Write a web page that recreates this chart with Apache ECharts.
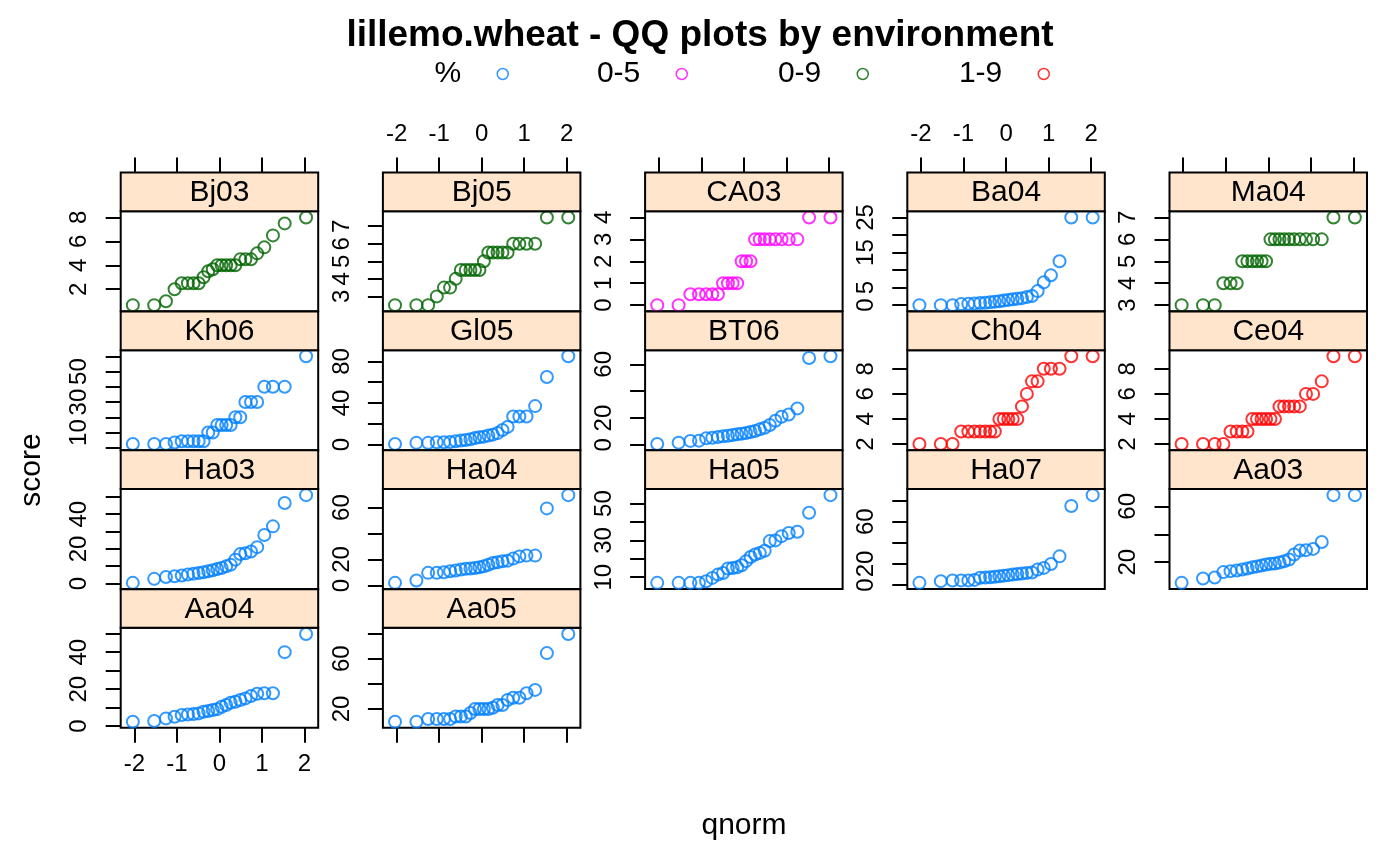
<!DOCTYPE html>
<html>
<head>
<meta charset="utf-8">
<script src="https://cdn.jsdelivr.net/npm/echarts/dist/echarts.min.js"></script>
<style>
  html, body { margin: 0; padding: 0; background: #fff; }
  #chart { width: 1400px; height: 866px; }
</style>
</head>
<body>
<div id="chart"></div>
<script>
// theoretical normal quantiles for 24 genotypes, ppoints(24)
var qnormX = [-2.037, -1.534, -1.258, -1.055, -0.887, -0.742, -0.610, -0.489, -0.374, -0.264, -0.157, -0.052,
              0.052, 0.157, 0.264, 0.374, 0.489, 0.610, 0.742, 0.887, 1.055, 1.258, 1.534, 2.037];

// sorted scores per environment
var bj03 = [0.67, 0.67, 1, 2, 2.5, 2.5, 2.5, 2.5, 3, 3.5, 3.67, 4, 4, 4, 4, 4, 4.5, 4.5, 4.5, 5, 5.5, 6.5, 7.5, 8];
var bj05 = [2.5, 2.5, 2.5, 3, 3.5, 3.5, 4, 4.5, 4.5, 4.5, 4.5, 4.5, 5, 5.5, 5.5, 5.5, 5.5, 5.5, 6, 6, 6, 6, 7.5, 7.5];
var ca03 = [0, 0, 0.5, 0.5, 0.5, 0.5, 0.5, 1, 1, 1, 1, 2, 2, 2, 3, 3, 3, 3, 3, 3, 3, 3, 4, 4];
var ba04 = [0, 0, 0, 0.3, 0.4, 0.5, 0.6, 0.7, 0.8, 1, 1.1, 1.3, 1.5, 1.7, 1.8, 2, 2.3, 2.6, 4, 6.5, 8.5, 12.5, 25, 25];
var ma04 = [3, 3, 3, 4, 4, 4, 5, 5, 5, 5, 5, 5, 6, 6, 6, 6, 6, 6, 6, 6, 6, 6, 7, 7];
var kh06 = [2.5, 2.5, 2.5, 3.5, 4.3, 4.3, 4.3, 4.3, 4.3, 10, 10, 15, 15, 15, 15, 20, 20, 30, 30, 30, 40, 40, 40, 60];
var gl05 = [0.5, 1.6, 1.6, 2.2, 2.2, 2.5, 3.2, 3.8, 4.4, 5, 6.3, 7, 7.6, 8.6, 9.5, 11, 14, 17, 27, 27, 27, 37, 65, 85];
var bt06 = [0.7, 1.7, 3, 3.2, 4.9, 5.4, 5.9, 6.4, 6.9, 7.4, 7.9, 8.4, 8.9, 9.6, 10.4, 11.6, 12.8, 14.8, 18, 21, 22.7, 27.2, 64.7, 66];
var ch04 = [2, 2, 2, 3, 3, 3, 3, 3, 3, 3, 4, 4, 4, 4, 4, 5, 6, 7, 7, 8, 8, 8, 9, 9];
var ce04 = [2, 2, 2, 2, 3, 3, 3, 3, 4, 4, 4, 4, 4, 4, 5, 5, 5, 5, 5, 6, 6, 7, 9, 9];
var ha03 = [0.4, 2.7, 3.8, 4.2, 4.6, 5.2, 5.7, 6.1, 6.5, 7.1, 7.7, 8.4, 9, 10, 10.9, 13.8, 17, 17.5, 18.5, 21, 28, 33, 46.5, 51];
var ha04 = [2, 3.8, 9.7, 9.7, 10.2, 11, 11.5, 12.2, 12.8, 13, 13.5, 14, 14.8, 16, 17.3, 17.9, 18.6, 19.1, 20.7, 22.4, 23, 23, 59.4, 69.6];
var ha05 = [6.9, 6.9, 6.9, 6.9, 7.8, 9.6, 11.4, 12.3, 14.7, 15, 15.4, 16.5, 18.7, 21, 22.3, 23.2, 24.4, 29.6, 30, 32.3, 34, 34.7, 45, 54.6];
var ha07 = [2.2, 3.8, 4.4, 4.5, 4.5, 5, 7, 7.2, 7.5, 8, 8.4, 9, 9.5, 10, 10.5, 11, 11.6, 12, 14.7, 16.3, 20, 27.2, 74.7, 85];
var aa03 = [5.2, 8.3, 9, 12.9, 13.6, 14, 14.8, 15.5, 16.4, 17, 17.6, 18.3, 18.8, 19, 19.8, 20.7, 21.9, 25.5, 28.3, 28.6, 29.5, 34.5, 68, 68];
var aa04 = [2.4, 2.8, 4.2, 5.1, 6, 6.3, 6.5, 6.9, 7.8, 8.2, 8.7, 9.2, 10.5, 11.4, 12.7, 13.2, 14.1, 15, 16.3, 17.5, 17.8, 17.8, 40, 49.8];
var aa05 = [9.9, 9.9, 12, 12, 12, 12, 14, 14, 14, 16.8, 20, 20, 20, 20, 21, 23.2, 23.2, 27.2, 29, 29, 32.5, 35.2, 64.5, 79.7];

var panelNames = ['Bj03', 'Bj05', 'CA03', 'Ba04', 'Ma04',
                  'Kh06', 'Gl05', 'BT06', 'Ch04', 'Ce04',
                  'Ha03', 'Ha04', 'Ha05', 'Ha07', 'Aa03',
                  'Aa04', 'Aa05'];
var panelScores = [bj03, bj05, ca03, ba04, ma04, kh06, gl05, bt06, ch04, ce04,
                   ha03, ha04, ha05, ha07, aa03, aa04, aa05];
var panelGroups = ['0-9', '0-9', '0-5', '%', '0-9', '%', '%', '%', '1-9', '1-9',
                   '%', '%', '%', '%', '%', '%', '%'];

var groupNames = ['%', '0-5', '0-9', '1-9'];
var groupColors = ['#0080ff', '#ff00ff', '#006400', '#ff0000'];

// y ticks and the labels that survive in each panel
var yTicks = [[2, 4, 6, 8], [3, 4, 5, 6, 7], [0, 1, 2, 3, 4], [0, 5, 10, 15, 20, 25], [3, 4, 5, 6, 7],
              [0, 10, 20, 30, 40, 50, 60], [0, 20, 40, 60, 80], [0, 20, 40, 60], [2, 4, 6, 8], [2, 4, 6, 8],
              [0, 10, 20, 30, 40, 50], [0, 20, 40, 60], [10, 20, 30, 40, 50], [0, 20, 40, 60, 80], [20, 40, 60],
              [0, 10, 20, 30, 40, 50], [20, 40, 60, 80]];
var yLabels = [[2, 4, 6, 8], [3, 4, 5, 6, 7], [0, 1, 2, 3, 4], [0, 5, 15, 25], [3, 4, 5, 6, 7],
               [10, 30, 50], [0, 40, 80], [0, 20, 60], [2, 4, 6, 8], [2, 4, 6, 8],
               [0, 20, 40], [0, 20, 60], [10, 30, 50], [0, 20, 60], [20, 60],
               [0, 20, 40], [20, 60]];
var xTicks = [-2, -1, 0, 1, 2];

var FONT = '"Liberation Sans", Arial, sans-serif';
var LEFT0 = 120.7, COLSTEP = 262.2, PW = 197.5;
var TOP0 = 172.6, ROWSTEP = 138.85, STRIPH = 38.7, PH = 100;

function buildOption() {
    var grids = [], xAxes = [], yAxes = [], series = [], graphics = [];

    // lattice pads the data range by 7% on each side
    var xLo = qnormX[0] - 0.07 * (qnormX[23] - qnormX[0]);
    var xHi = qnormX[23] + 0.07 * (qnormX[23] - qnormX[0]);

    for (var i = 0; i < panelNames.length; i++) {
        var r = Math.floor(i / 5), c = i % 5;
        var panelLeft = LEFT0 + COLSTEP * c;
        var stripTop = TOP0 + ROWSTEP * r;
        var plotTop = stripTop + STRIPH;
        var vals = panelScores[i];
        var lo = Math.min.apply(null, vals), hi = Math.max.apply(null, vals);
        var pad = 0.07 * (hi - lo);
        var col = groupColors[groupNames.indexOf(panelGroups[i])];

        grids.push({
            left: panelLeft, top: plotTop, width: PW, height: PH,
            show: true, backgroundColor: '#fff', borderColor: '#000', borderWidth: 2,
            containLabel: false, outerBoundsMode: 'none'
        });

        var bottomRow = (r === 3);
        var hasTicks = (r === 0 || bottomRow);
        var hasLabels = (r === 0 && (c === 1 || c === 3)) || (bottomRow && c === 0);
        var xa = {
            type: 'value', gridIndex: i, min: xLo, max: xHi,
            position: bottomRow ? 'bottom' : 'top',
            axisLine: { show: false, onZero: false },
            splitLine: { show: false },
            axisTick: { show: hasTicks, customValues: xTicks, length: 15, lineStyle: { color: '#000', width: 2 } },
            axisLabel: { show: hasLabels, customValues: xTicks, margin: bottomRow ? 25 : 26,
                         fontSize: 24, color: '#000', fontFamily: FONT }
        };
        if (!bottomRow) xa.offset = STRIPH;   // top axis sits above the strip
        xAxes.push(xa);

        yAxes.push({
            type: 'value', gridIndex: i, min: lo - pad, max: hi + pad,
            position: 'left',
            axisLine: { show: false, onZero: false },
            splitLine: { show: false },
            axisTick: { show: true, customValues: yTicks[i], length: 15, lineStyle: { color: '#000', width: 2 } },
            axisLabel: { show: true, customValues: yLabels[i], rotate: 90, margin: 29,
                         fontSize: 24, color: '#000', fontFamily: FONT }
        });

        series.push({
            type: 'scatter', name: panelGroups[i], xAxisIndex: i, yAxisIndex: i,
            data: vals.map(function (v, j) { return [qnormX[j], v]; }),
            symbol: 'circle', symbolSize: 12,
            itemStyle: { color: 'rgba(0,0,0,0)', borderColor: col, borderWidth: 2 },
            emphasis: { disabled: true }, silent: true
        });

        // strip above each panel
        graphics.push({
            type: 'rect', z: 10,
            shape: { x: panelLeft, y: stripTop, width: PW, height: STRIPH },
            style: { fill: '#FFE5CC', stroke: '#000', lineWidth: 2 }
        });
        graphics.push({
            type: 'text', z: 11,
            x: panelLeft + PW / 2, y: stripTop + STRIPH / 2 + 1,
            style: { text: panelNames[i], fill: '#000', font: '30px ' + FONT, textAlign: 'center', textVerticalAlign: 'middle' }
        });
    }

    graphics.push({
        type: 'text', x: 32, y: 470, rotation: Math.PI / 2,
        style: { text: 'score', fill: '#000', font: '30px ' + FONT, textAlign: 'center', textVerticalAlign: 'middle' }
    });
    graphics.push({
        type: 'text', x: 744, y: 826,
        style: { text: 'qnorm', fill: '#000', font: '30px ' + FONT, textAlign: 'center', textVerticalAlign: 'middle' }
    });

    // one legend per group so the entries sit where lattice put them
    var legendCentres = [508, 687, 868, 1049];
    var legends = groupNames.map(function (g, k) {
        return {
            right: 1400 - legendCentres[k] - 6, top: 54,
            align: 'right',
            itemWidth: 11, itemHeight: 11,
            selectedMode: false,
            textStyle: { fontSize: 30, color: '#000', fontFamily: FONT, padding: [0, 31, 0, 0] },
            data: [{ name: g, icon: 'circle',
                     itemStyle: { color: 'rgba(0,0,0,0)', borderColor: groupColors[k], borderWidth: 1.5 } }]
        };
    });

    return {
        animation: false,
        backgroundColor: '#fff',
        title: {
            text: 'lillemo.wheat - QQ plots by environment',
            left: 'center', top: 12,
            textStyle: { fontSize: 37, fontWeight: 'bold', color: '#000', fontFamily: FONT }
        },
        legend: legends,
        grid: grids,
        xAxis: xAxes,
        yAxis: yAxes,
        series: series,
        graphic: graphics
    };
}

var chart = echarts.init(document.getElementById('chart'));
chart.setOption(buildOption());
</script>
</body>
</html>
